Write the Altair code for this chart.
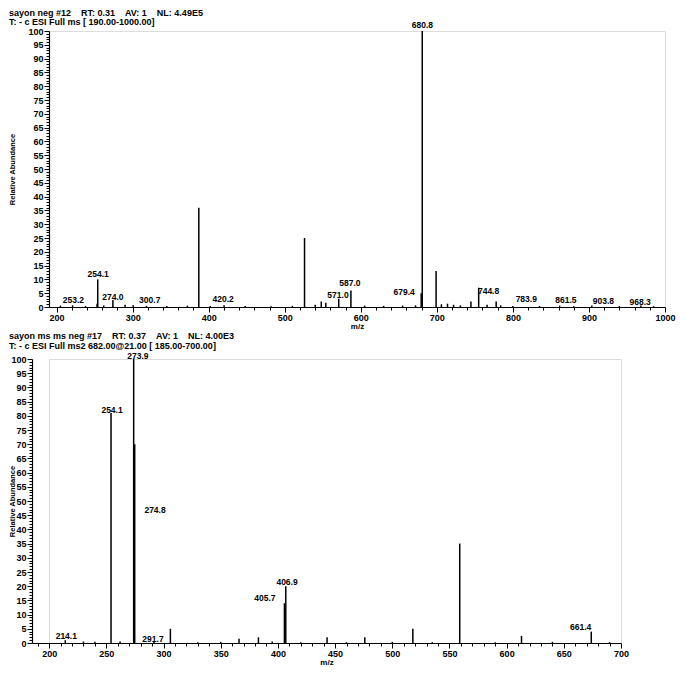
import altair as alt
import pandas as pd

FONT = "Liberation Sans"
NB = "\u00a0"

# ---------------- top spectrum (full MS) ----------------
top_header = [
    NB * 2 + "sayon neg #12" + NB * 4 + "RT: 0.31" + NB * 4 + "AV: 1" + NB * 4 + "NL: 4.49E5",
    "T: - c ESI Full ms [ 190.00-1000.00]",
]
top_mz = [205, 221, 238, 253.2, 254.1, 262, 274.0, 290, 300.7, 318, 345, 372, 387.0, 402,
          420.2, 448, 482, 510, 526.0, 540, 548, 554, 571.0, 587.0, 605, 630, 655, 672,
          679.4, 680.8, 699.0, 706, 714, 722, 731, 744.8, 755.0, 766, 778, 783.9, 800,
          835, 861.5, 880, 903.8, 940, 968.3, 985]
top_rel = [0.5, 0.6, 0.4, 1.2, 10, 0.5, 2.5, 0.8, 0.6, 0.4, 0.4, 0.5, 36, 0.4,
           0.6, 0.4, 0.3, 0.4, 25, 0.8, 2, 1.5, 3, 6, 0.5, 0.4, 0.5, 0.6,
           5, 100, 13, 1, 1.2, 0.8, 0.6, 2, 7, 0.8, 2, 0.6, 0.4,
           0.4, 0.5, 0.3, 0.5, 0.3, 0.5, 0.3]
top_label_text = ["253.2", "254.1", "274.0", "300.7", "420.2", "571.0", "587.0", "679.4",
                  "680.8", "744.8", "783.9", "861.5", "903.8", "968.3"]
top_label_x = [222, 254.7, 274, 322.5, 419, 570, 585.7, 657, 681, 768, 817.6, 869.7, 919, 967.4]
top_label_y = [2.7, 12, 3.6, 2.5, 3, 4.5, 8.6, 5.5, 102, 5.7, 2.8, 2.5, 2.3, 1.8]
top_xticks = list(range(200, 1001, 20))

# ---------------- bottom spectrum (MS2) ----------------
bot_header = [
    NB + "sayon ms ms neg #17" + NB * 4 + "RT: 0.37" + NB * 4 + "AV: 1" + NB * 4 + "NL: 4.00E3",
    "T: - c ESI Full ms2 682.00@21.00 [ 185.00-700.00]",
]
bot_mz = [214.1, 230, 240, 254.1, 262, 273.9, 274.8, 291.7, 306, 330, 350, 366, 383, 395,
          405.7, 406.9, 420, 443, 460, 476, 500, 518, 535, 559, 590, 613, 640, 674, 690]
bot_rel = [1, 0.5, 0.4, 81, 0.5, 100, 70, 0.6, 5, 0.3, 0.4, 1.5, 2, 0.5,
           14, 20, 0.3, 2, 0.3, 2, 0.4, 5, 0.3, 35, 0.3, 2.5, 0.4, 4, 0.3]
bot_label_text = ["214.1", "254.1", "273.9", "274.8", "291.7", "405.7", "406.9", "661.4"]
bot_label_x = [215, 255, 277.6, 292.6, 290.8, 388.7, 408, 664.7]
bot_label_y = [2.4, 82, 101.2, 47, 1.5, 15.7, 21.6, 5.8]
bot_xticks = list(range(190, 701, 10))

y_ticks = list(range(0, 101))


def spectrum(mz, rel, ltext, lx, ly, header, xdomain, xrange, xticks, xmajor, width,
             height, ytitle_pad, yoffset, title_offset):
    peaks = pd.DataFrame({"mz": mz, "rel": rel})
    labels = pd.DataFrame({"text": ltext, "mz": lx, "rel": ly})

    xscale = alt.Scale(domain=xdomain, range=xrange, nice=False, zero=False)
    yscale = alt.Scale(domain=[0, 100], nice=False, zero=True)

    xaxis = alt.Axis(
        title="m/z", values=xticks,
        labelExpr=f"datum.value % {xmajor} === 0 ? datum.label : ''",
        tickSize={"condition": {"test": f"datum.value % {xmajor} === 0", "value": 5}, "value": 3},
        labelOverlap=False, labelFlush=False, labelBound=False, format="d",
        labelFont=FONT, labelFontSize=9, labelFontWeight="bold", labelPadding=1,
        labelColor="black",
        titleFont=FONT, titleFontSize=8, titleFontWeight="bold", titlePadding=0,
        titleColor="black",
        domainColor="black", tickColor="black", domainWidth=1.2, tickWidth=1,
        grid=False,
    )
    yaxis = alt.Axis(
        title="Relative Abundance", values=y_ticks, offset=yoffset,
        labelExpr="datum.value % 5 === 0 ? datum.label : ''",
        tickSize={"condition": {"test": "datum.value % 5 === 0", "value": 5}, "value": 3},
        labelOverlap=False, labelBound=False, labelFlush=False,
        labelFont=FONT, labelFontSize=9, labelFontWeight="bold", labelPadding=1,
        labelColor="black",
        titleFont=FONT, titleFontSize=7.5, titleFontWeight="bold", titlePadding=ytitle_pad,
        titleColor="black",
        domainColor="black", tickColor="black", domainWidth=1.2, tickWidth=1,
        grid=False,
    )

    rules = alt.Chart(peaks).mark_rule(color="black", strokeWidth=1.5).encode(
        x=alt.X("mz:Q", scale=xscale, axis=xaxis),
        y=alt.Y("rel:Q", scale=yscale, axis=yaxis),
        y2=alt.datum(0),
    )
    texts = alt.Chart(labels).mark_text(
        font=FONT, fontSize=8.5, fontWeight="bold", color="black",
        align="center", baseline="middle", clip=False,
    ).encode(
        x=alt.X("mz:Q", scale=xscale, axis=xaxis),
        y=alt.Y("rel:Q", scale=yscale, axis=yaxis),
        text="text:N",
    )
    return alt.layer(rules, texts).properties(
        width=width, height=height,
        title=alt.TitleParams(
            text=header, anchor="start", frame="bounds", font=FONT, fontSize=9,
            fontWeight="bold", lineHeight=9.5, offset=title_offset, color="black",
        ),
    )


top = spectrum(top_mz, top_rel, top_label_text, top_label_x, top_label_y, top_header,
               [190, 1000], [0, 616], top_xticks, 100, 616, 276, 11, 0, -6)
bot = spectrum(bot_mz, bot_rel, bot_label_text, bot_label_x, bot_label_y, bot_header,
               [185, 700], [-17, 572], bot_xticks, 50, 572, 284, -6, 17, 1)

chart = alt.concat(top, bot, columns=1, spacing=0).properties(
    padding={"left": 0, "top": 0, "right": 0, "bottom": 0},
).configure_view(stroke=None).configure(background="white")

chart.save("out.html", embed_options={"renderer": "svg", "actions": False})
